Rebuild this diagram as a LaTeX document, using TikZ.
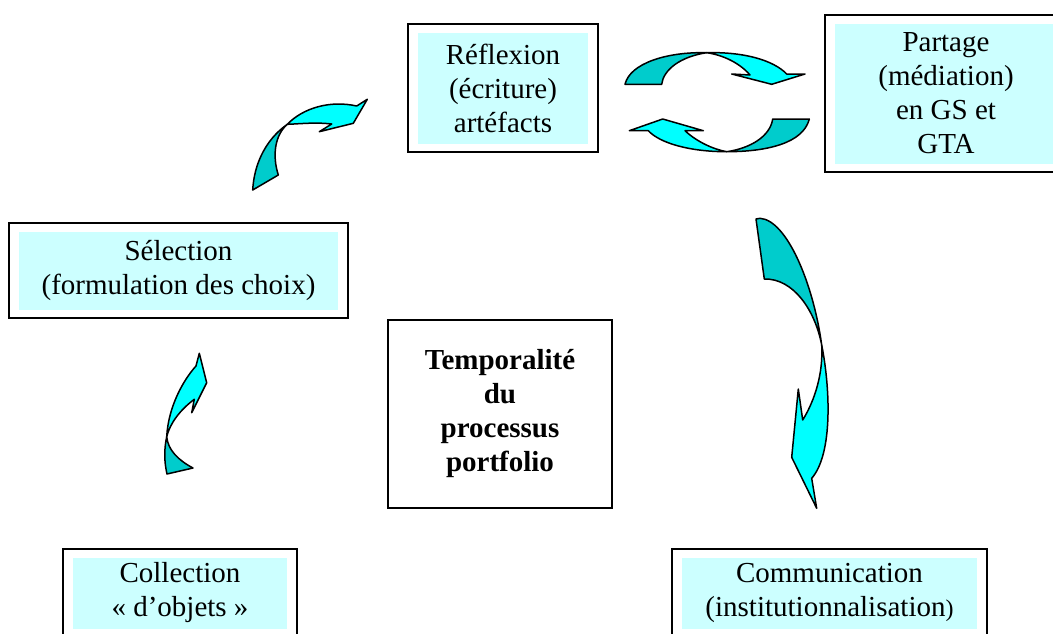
\documentclass[tikz,border=0pt]{standalone}
\usepackage{fontspec}
\setmainfont{Liberation Serif}
\usetikzlibrary{positioning}

\definecolor{boxcyan}{RGB}{204,255,255}
\definecolor{arrowlight}{RGB}{0,255,255}
\definecolor{arrowdark}{RGB}{0,204,204}

\tikzset{
    stagebox/.style={draw=black, line width=2pt, fill=white, align=center, inner sep=0pt,
        font=\fontsize{29}{34}\selectfont,
        path picture={\fill[boxcyan] ([shift={(10pt,-8.5pt)}]path picture bounding box.north west)
            rectangle ([shift={(-10pt,8.5pt)}]path picture bounding box.south east);}},
    centrebox/.style={draw=black, line width=2pt, align=center, inner sep=0pt,
        font=\fontsize{29}{34}\selectfont\bfseries},
    arrowback/.style={fill=arrowdark, draw=black, line width=1.5pt, line join=round},
    arrowfront/.style={fill=arrowlight, draw=black, line width=1.5pt, line join=round},
}

\begin{document}
\begin{tikzpicture}[x=1pt, y=-1pt]

        \fill[white] (0,0) rectangle (1053,633);
        \clip (0,0) rectangle (1053,633);

        \node[stagebox, minimum width=190pt, minimum height=128pt] (reflexion) at (503,88) {Réflexion\\(écriture)\\artéfacts};
        \node[stagebox, minimum width=242pt, minimum height=157pt] (partage) at (946,93.5) {Partage\\(médiation)\\en GS et\\GTA};
        \node[stagebox, minimum width=339pt, minimum height=95pt] (selection) at (178.5,270.5) {Sélection\\(formulation des choix)};
        \node[stagebox, minimum width=234pt, minimum height=88pt] (collection) at (180,593) {Collection\\« d’objets »};
        \node[stagebox, minimum width=315pt, minimum height=88pt] (communication) at (829.5,593) {Communication\\(institutionnalisation{\fontsize{24}{34}\selectfont)}};
        \node[centrebox, minimum width=224pt, minimum height=188pt] (temporalite) at (500,414) {Temporalité\\du\\processus\\portfolio};

        \filldraw[arrowback] (287.3,124.3) .. controls (265,140) and (254,165) .. (252.7,190) -- (278.3,175) .. controls (272,155) and (275,135) .. (287.3,124.3) -- cycle;
        \filldraw[arrowfront] (287.3,124.3) .. controls (303,108) and (330,100) .. (356.7,106) -- (367.3,99.3) -- (353.3,123.3) -- (319.3,131.7) -- (331.7,124) .. controls (315,122) and (298,124) .. (287.3,124.3) -- cycle;

        \filldraw[arrowback] (706.7,52.7) .. controls (666.7,51.7) and (630,63.3) .. (625,84.3) -- (661.7,84.3) .. controls (663.3,70) and (680,56.7) .. (706.7,52.7) -- cycle;
        \filldraw[arrowfront] (706.7,52.7) .. controls (743.3,51.7) and (773.3,60) .. (786.7,74) -- (805,74) -- (771.7,84.3) -- (731.7,74) -- (750,75) .. controls (740,63.3) and (723.3,55) .. (706.7,52.7) -- cycle;

        \filldraw[arrowback] (726.7,151.7) .. controls (766.7,151.7) and (803.3,143.3) .. (809.3,119) -- (772.7,119) .. controls (770,136.7) and (750,148.3) .. (726.7,151.7) -- cycle;
        \filldraw[arrowfront] (726.7,151.7) .. controls (690,151.7) and (660,143.3) .. (648.3,130.7) -- (629.3,130.7) -- (662.7,119) -- (703.3,130.7) -- (685,130.7) .. controls (696.7,141.7) and (713.3,149.3) .. (726.7,151.7) -- cycle;

        \filldraw[arrowback] (760,218.3) .. controls (786.7,220) and (813.3,283.3) .. (821.7,345) .. controls (815,310) and (793.3,278.3) .. (764.3,279) -- (756,219) -- cycle;
        \filldraw[arrowfront] (821.7,345) .. controls (830,386.7) and (833.3,453.3) .. (811.7,478.3) -- (816.7,508.3) -- (791.7,457.3) -- (798.3,389) -- (802.7,420) .. controls (815,400) and (823.3,373.3) .. (821.7,345) -- cycle;

        \filldraw[arrowfront] (166.7,436.7) .. controls (168.3,406.7) and (183.3,380) .. (196,366) -- (199.3,353.3) -- (206.7,382.7) -- (191.7,412.7) -- (194.3,399.3) .. controls (180,410) and (170,423.3) .. (166.7,436.7) -- cycle;
        \filldraw[arrowback] (166.7,436.7) .. controls (163.3,453.3) and (165,465) .. (167,474) -- (193,468) .. controls (178,460) and (168,450) .. (166.7,436.7) -- cycle;

\end{tikzpicture}
\end{document}
